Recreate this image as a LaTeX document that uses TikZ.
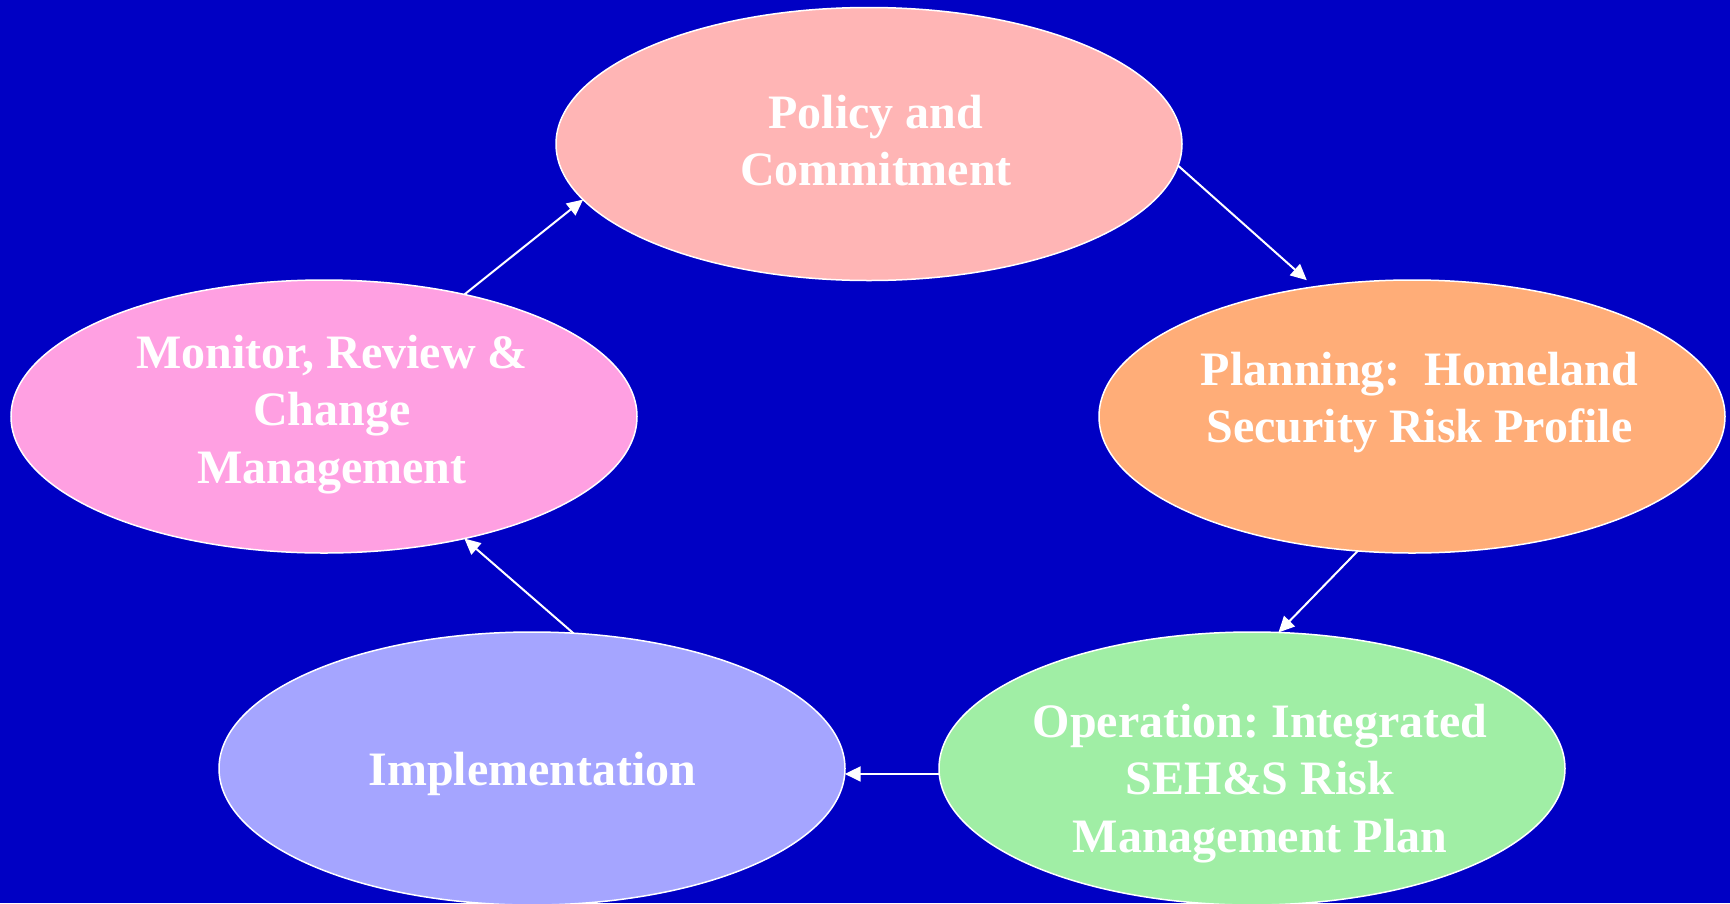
\documentclass[tikz,border=0pt]{standalone}
\usepackage{fontspec}
\setmainfont{Liberation Serif}
\usetikzlibrary{shapes.geometric,arrows.meta}
\definecolor{bg}{RGB}{0,0,196}
\definecolor{cpol}{RGB}{255,181,181}
\definecolor{cpla}{RGB}{255,173,120}
\definecolor{cmon}{RGB}{255,160,226}
\definecolor{cimp}{RGB}{165,165,255}
\definecolor{cop}{RGB}{160,238,165}
\frenchspacing
\begin{document}
\begin{tikzpicture}[x=1pt,y=-1pt,
  blob/.style={ellipse, draw=white, line width=1.5pt, minimum width=626pt, minimum height=273pt, inner sep=0pt, outer sep=0pt},
  lbl/.style={anchor=base, inner sep=0pt, outer sep=0pt, text=white, font=\fontsize{48}{57.5}\selectfont\bfseries\frenchspacing},
  flow/.style={draw=white, line width=2pt, -{Triangle[length=16pt,width=15pt]}}]
\fill[bg] (0,0) rectangle (1730,903);
\useasboundingbox (0,0) rectangle (1730,903);
\node[blob, fill=cpol] (pol) at (869,144) {};
\node[blob, fill=cpla] (pla) at (1412,416.5) {};
\node[blob, fill=cmon] (mon) at (324,416.5) {};
\node[blob, fill=cimp] (imp) at (532,768.5) {};
\node[blob, fill=cop] (op) at (1252,768.5) {};
\node[lbl] (poltext) at (876,128) {\begin{tabular}[t]{@{}c@{}}Policy and\\Commitment\end{tabular}};
\node[lbl] (platext) at (1419.5,385) {\begin{tabular}[t]{@{}c@{}}Planning: \ Homeland\\Security Risk Profile\end{tabular}};
\node[lbl] (montext) at (332,368) {\begin{tabular}[t]{@{}c@{}}Monitor, Review \&\\Change\\Management\end{tabular}};
\node[lbl] (imptext) at (532.5,785) {Implementation};
\node[lbl] (optext) at (1260,737) {\begin{tabular}[t]{@{}c@{}}Operation: Integrated\\SEH\&S Risk\\Management Plan\end{tabular}};
\draw[flow, shorten >=10pt] (pol.-4.4) -- (pla.127);
\draw[flow] (pla.-112.3) -- (op.79.6);
\draw[flow] (op.181.4) -- (imp.-1.4);
\draw[flow] (imp.73.1) -- (mon.-41.6);
\draw[flow] (mon.41.8) -- (pol.191.8);
\end{tikzpicture}
\end{document}
